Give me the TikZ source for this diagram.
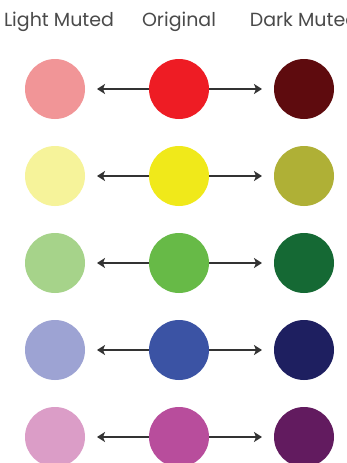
\documentclass[tikz,border=0pt]{standalone}
\usepackage{fontspec}
\setmainfont{Poppins}
\usetikzlibrary{arrows.meta}
\definecolor{lr}{HTML}{F19597}\definecolor{or}{HTML}{EE1C24}\definecolor{dr}{HTML}{5E0B0E}
\definecolor{ly}{HTML}{F6F39A}\definecolor{oy}{HTML}{F0E91A}\definecolor{dy}{HTML}{AFB036}
\definecolor{lg}{HTML}{A6D38A}\definecolor{og}{HTML}{67BA47}\definecolor{dg}{HTML}{156934}
\definecolor{lb}{HTML}{9DA3D3}\definecolor{ob}{HTML}{3B53A4}\definecolor{db}{HTML}{1E1F60}
\definecolor{lp}{HTML}{DB9DC7}\definecolor{op}{HTML}{B84D9C}\definecolor{dp}{HTML}{621B5F}
\definecolor{txt}{HTML}{4A4A4A}\definecolor{arr}{HTML}{333333}
\begin{document}
\begin{tikzpicture}[x=1pt,y=-1pt,
  dot/.style={circle,inner sep=0pt,minimum size=60pt},
  hdr/.style={text=txt,font=\fontsize{19}{22}\selectfont,anchor=base},
  link/.style={draw=arr,line width=2.8pt,-{Stealth[length=8pt,width=10pt,inset=2pt]}}]
\useasboundingbox (0,0) rectangle (347,463);
\clip (0,0) rectangle (347,463);
\fill[white] (0,0) rectangle (347,463);
\node[hdr] (hl) at (59,27) {Light Muted};
\node[hdr] (ho) at (179,27) {Original};
\node[hdr] (hd) at (304,27) {Dark Muted};
\foreach \l/\o/\d/\y/\n in {lr/or/dr/89/1,ly/oy/dy/176/2,lg/og/dg/263/3,lb/ob/db/350/4,lp/op/dp/437/5}{
  \node[dot,fill=\l] (l\n) at (55,\y) {};
  \node[dot,fill=\d] (d\n) at (304,\y) {};
  \coordinate (tl\n) at (97,\y);
  \coordinate (tr\n) at (262,\y);
  \coordinate (c\n) at (179,\y);
  \draw[link] (c\n) -- (tl\n);
  \draw[link] (c\n) -- (tr\n);
  \node[dot,fill=\o] (o\n) at (179,\y) {};
}
\end{tikzpicture}
\end{document}
